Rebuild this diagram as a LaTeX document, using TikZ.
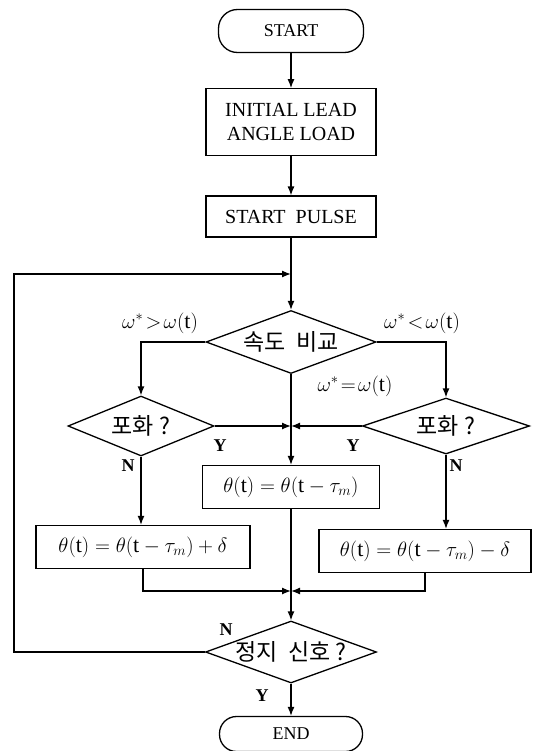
\documentclass[tikz,border=0pt]{standalone}
\usepackage{amsmath}
\usepackage{fontspec}
\setmainfont{Liberation Serif}
\newfontfamily\kr{Noto Sans CJK KR}
\usepackage{tikz}
\usetikzlibrary{arrows.meta, positioning, shapes}

\begin{document}
\begin{tikzpicture}[
    x=1pt, y=-1pt, line width=1.3pt,
    term/.style={draw, rectangle, rounded corners=19pt, minimum width=145pt, minimum height=43pt, font=\fontsize{18}{20}\selectfont},
    box/.style={draw, rectangle, minimum width=170pt, align=center, font=\fontsize{20}{24}\selectfont},
    eqn/.style={draw, rectangle, minimum height=43pt, font=\fontsize{22}{24}\selectfont},
    dec/.style={draw, diamond, inner sep=0pt, font=\kr\fontsize{23}{25}\selectfont},
    cond/.style={font=\fontsize{22}{24}\selectfont},
    yn/.style={font=\bfseries\fontsize{18}{20}\selectfont},
    arr/.style={-{Latex[length=9pt, width=7pt]}}
]
    \useasboundingbox (0,0) rectangle (536,751);

    \node[term] (start) at (291,31) {START};
    \node[box, minimum height=67pt, below=35pt of start] (init) {INITIAL LEAD\\ANGLE LOAD};
    \node[box, minimum height=41pt, below=39pt of init] (pulse) {START\ \ PULSE};
    \coordinate (join) at (291,274);
    \node[dec, minimum width=170pt, minimum height=63pt] (cmp) at (291,342) {\makebox[0pt]{속도\ \ 비교}};
    \node[dec, minimum width=146pt, minimum height=60pt] (satl) at (141,426) {\makebox[0pt]{포화 ?}};
    \node[dec, minimum width=167pt, minimum height=56pt] (satr) at (446,426) {\makebox[0pt]{포화 ?}};
    \node[eqn, minimum width=177pt] (hold) at (291,487) {$\theta(\mathrm{t})=\theta(\mathrm{t}-\tau_m)$};
    \node[eqn, minimum width=214pt] (plus) at (143,547) {$\theta(\mathrm{t})=\theta(\mathrm{t}-\tau_m)+\delta$};
    \node[eqn, minimum width=212pt] (minus) at (425,551) {$\theta(\mathrm{t})=\theta(\mathrm{t}-\tau_m)-\delta$};
    \coordinate (merge) at (291,591);
    \node[dec, minimum width=171pt, minimum height=62pt] (stop) at (291,652) {\makebox[0pt]{정지\ \ 신호 ?}};
    \node[term, minimum width=143pt, minimum height=35pt, rounded corners=17pt] (fin) at (291,734) {END};
    \coordinate (back) at (14,274);

    % main column
    \draw[arr] (start) -- (init);
    \draw[arr] (init) -- (pulse);
    \draw (pulse) -- (join);
    \draw[arr] (join) -- (cmp);
    \draw[arr] (stop.west) -| (back) -- (join);

    % speed compare branches
    \draw[arr] (cmp.west) -| (satl.north);
    \draw[arr] (cmp.east) -| (satr.north);
    \draw[arr] (cmp.south) -- (hold.north);
    \draw[arr] (satl.east) -- (satl.east -| cmp.south);
    \draw[arr] (satr.west) -- (satr.west -| cmp.south);
    \draw[arr] (satl.south) -- (satl.south |- plus.north);
    \draw[arr] (satr.south) -- (satr.south |- minus.north);

    % merge
    \draw (hold.south) -- (merge);
    \draw[arr] (plus.south) |- (merge);
    \draw[arr] (minus.south) |- (merge);
    \draw[arr] (merge) -- (stop);
    \draw[arr] (stop) -- (fin);

    \node[cond] (gt) at (160,323) {$\omega^{*}\!>\!\omega(\mathrm{t})$};
    \node[cond] (lt) at (422,323) {$\omega^{*}\!<\!\omega(\mathrm{t})$};
    \node[cond] (eq) at (355,386) {$\omega^{*}\!=\!\omega(\mathrm{t})$};
    \node[yn] (yl) at (220,446) {Y};
    \node[yn] (yr) at (353,446) {Y};
    \node[yn] (nl) at (128,466) {N};
    \node[yn] (nr) at (456,466) {N};
    \node[yn] (ns) at (226,630) {N};
    \node[yn] (ys) at (262,696) {Y};
\end{tikzpicture}
\end{document}
